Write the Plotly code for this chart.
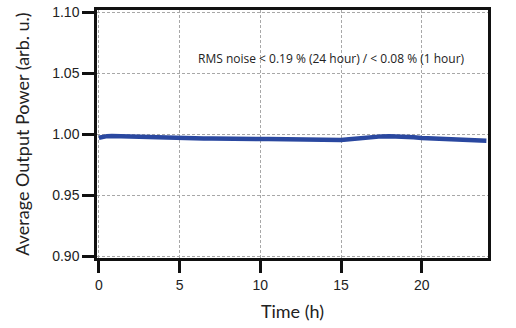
import plotly.graph_objects as go

time_h = [0.0, 0.2, 0.5, 0.8, 1.0, 1.3, 1.6, 2.0, 2.5, 3.0, 3.5, 4.0, 4.5, 5.0, 5.5, 6.0,
          6.5, 7.0, 7.5, 8.0, 8.5, 9.0, 9.5, 10.0, 10.5, 11.0, 11.5, 12.0, 12.5, 13.0,
          13.5, 14.0, 14.5, 15.0, 15.5, 16.0, 16.5, 17.0, 17.5, 18.0, 18.5, 19.0, 19.5,
          20.0, 20.5, 21.0, 21.5, 22.0, 22.5, 23.0, 23.5, 23.8, 24.0]
power = [0.9972, 0.9980, 0.9985, 0.9987, 0.9986, 0.9987, 0.9984, 0.9982, 0.9978, 0.9976,
         0.9972, 0.9970, 0.9969, 0.9967, 0.9968, 0.9966, 0.9965, 0.9966, 0.9964, 0.9963,
         0.9964, 0.9962, 0.9963, 0.9961, 0.9962, 0.9960, 0.9961, 0.9960, 0.9958, 0.9959,
         0.9957, 0.9956, 0.9955, 0.9953, 0.9960, 0.9968, 0.9975, 0.9980, 0.9983, 0.9984,
         0.9983, 0.9980, 0.9976, 0.9970, 0.9968, 0.9966, 0.9963, 0.9960, 0.9958, 0.9953,
         0.9950, 0.9947, 0.9948]

x_ticks = [0, 5, 10, 15, 20]
y_ticks = [0.90, 0.95, 1.00, 1.05, 1.10]
y_tick_labels = ["0.90", "0.95", "1.00", "1.05", "1.10"]
note = "RMS noise < 0.19 % (24 hour) / < 0.08 % (1 hour)"

fig = go.Figure()
fig.add_trace(go.Scatter(x=time_h, y=power, mode="lines",
                         line=dict(color="#2a48a0", width=4.5), showlegend=False))

fig.add_annotation(x=14.4, y=1.062, text=note, showarrow=False,
                   font=dict(family="Open Sans", size=12, color="#222"))

axis_common = dict(showline=True, linecolor="#111", linewidth=2.5, mirror=True,
                   ticks="outside", ticklen=12, tickwidth=2.5, tickcolor="#111",
                   showgrid=True, gridcolor="#a8a8a8", griddash="3px,2px", gridwidth=1,
                   zeroline=False, automargin=False,
                   tickfont=dict(family="Liberation Sans", size=14, color="#222"))

fig.update_xaxes(range=[-0.12, 24.1], tickvals=x_ticks, ticklabelstandoff=0,
                 title=dict(text="Time (h)", font=dict(family="Lato", size=18, color="#222"), standoff=14),
                 **axis_common)
fig.update_yaxes(range=[0.8985, 1.102], tickvals=y_ticks, ticktext=y_tick_labels,
                 title=dict(text="Average Output Power (arb. u.)",
                            font=dict(family="Lato", size=18, color="#222"), standoff=18),
                 **axis_common)

fig.update_layout(width=516, height=328, margin=dict(l=97, r=28, t=10, b=70),
                  plot_bgcolor="white", paper_bgcolor="white")

fig.write_html("out.html", config={"displayModeBar": False},
               post_script="document.body.style.margin='0';")
